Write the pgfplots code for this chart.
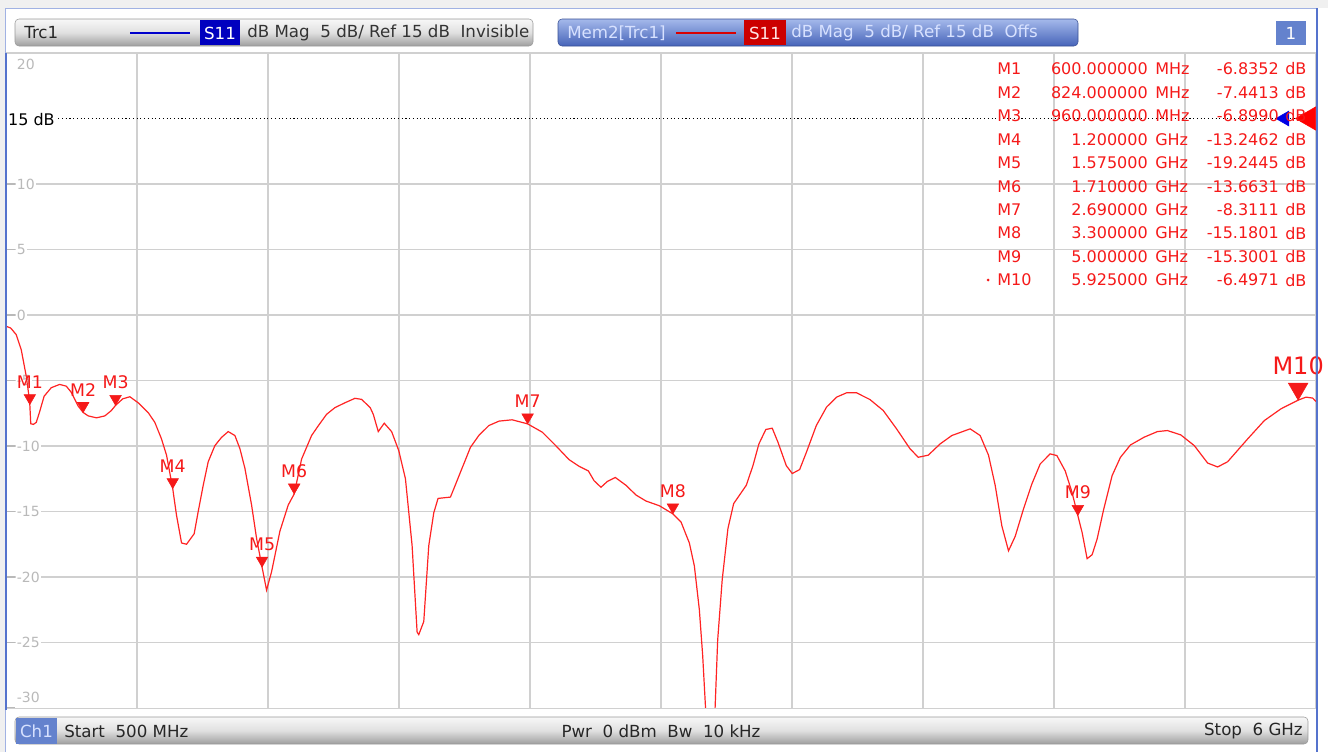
\documentclass[border=0pt]{standalone}
\usepackage{fontspec}
\setmainfont{DejaVu Sans}
\usepackage{pgfplots}
\pgfplotsset{compat=1.18}
\definecolor{trace}{RGB}{255,35,35}
\definecolor{mk}{RGB}{245,25,25}
\definecolor{gridc}{RGB}{208,208,208}
\definecolor{lblgray}{RGB}{185,185,185}
\definecolor{panelblue}{RGB}{85,115,205}
\definecolor{memtop}{RGB}{165,185,235}
\definecolor{membot}{RGB}{70,100,185}
\definecolor{memtext}{RGB}{215,225,255}
\definecolor{chblue}{RGB}{100,130,205}
\newcommand{\fs}[1]{\fontsize{#1}{#1}\selectfont}
\begin{document}
\begin{tikzpicture}
\begin{scope}[x=0.75pt,y=-0.75pt]
\path[use as bounding box] (0,0) rectangle (1328,752);
\fill[white!94!black] (0,0) rectangle (1328,8);
\fill[white!94!black] (0,0) rectangle (5,752);
\draw[panelblue!55, line width=1pt] (5.5,752) -- (5.5,8.5) -- (1317,8.5);
% header: Trc1
\shade[top color=white!97!black, bottom color=white!62!black, middle color=white!88!black, rounded corners=3pt, draw=black!40] (15,19) rectangle (533,46);
\node[anchor=west, inner sep=0pt, text=black!85, font=\fs{12.5}] at (24,33) {Trc1};
\draw[blue!80!black, line width=1.6pt] (130,33) -- (190,33);
\fill[blue!75!black] (200,20) rectangle (240,45);
\node[text=white, font=\fs{12.5}, inner sep=0pt] at (220,33) {S11};
\node[anchor=west, inner sep=0pt, text=black!80, font=\fs{12.5}] at (247,33) {dB Mag\ \ 5 dB/ Ref 15 dB\ \ Invisible};
% header: Mem2
\shade[top color=memtop, bottom color=membot, rounded corners=3pt, draw=membot!80!black] (558,19) rectangle (1078,46);
\node[anchor=west, inner sep=0pt, text=memtext, font=\fs{12.5}] at (567,33) {Mem2[Trc1]};
\draw[red!85!black, line width=1.6pt] (676,33) -- (736,33);
\fill[red!80!black] (744,20) rectangle (786,45);
\node[text=white!90!red, font=\fs{12.5}, inner sep=0pt] at (765,33) {S11};
\node[anchor=west, inner sep=0pt, text=memtext, font=\fs{12.5}] at (791,33) {dB Mag\ \ 5 dB/ Ref 15 dB\ \ Offs};
\fill[chblue] (1276,21) rectangle (1306,45);
\node[text=white, font=\fs{12.5}, inner sep=0pt] at (1291,33) {1};
% bottom bar
\shade[top color=white!97!black, bottom color=white!62!black, middle color=white!88!black, rounded corners=3pt, draw=black!40] (15,717) rectangle (1308,744);
\fill[chblue] (16,718) rectangle (57,743.5);
\node[text=memtext, font=\fs{12.5}, inner sep=0pt] at (36.5,731) {Ch1};
\node[anchor=west, inner sep=0pt, text=black!85, font=\fs{12.5}] at (64,731) {Start\ \ 500 MHz};
\node[inner sep=0pt, text=black!85, font=\fs{12.5}] at (661,731) {Pwr\ \ 0 dBm\ \ Bw\ \ 10 kHz};
\node[anchor=east, inner sep=0pt, text=black!85, font=\fs{12.5}] at (1303,731) {Stop\ \ 6 GHz};
\end{scope}

\begin{axis}[
  set layers,
  at={(4.5pt,-531pt)}, anchor=south west,
  scale only axis, width=982.5pt, height=491.25pt,
  xmin=0.5, xmax=6, ymin=-30, ymax=20,
  xtick={0.5,1.05,1.6,2.15,2.7,3.25,3.8,4.35,4.9,5.45,6},
  xticklabels={},
  ytick={-25,-20,-15,-10,-5,0,5,10},
  yticklabels={-25,-20,-15,-10,-5,0,5,10},
  extra y ticks={-30,20},
  extra y tick labels={\raisebox{4pt}[0pt][0pt]{-30},\raisebox{-12pt}[0pt][0pt]{20}},
  extra y tick style={grid=none, yticklabel style={fill=none}},
  grid=major,
  major grid style={gridc, line width=1pt},
  axis line style={draw=none},
  xtick style={draw=none},
  ytick style={lblgray, line width=1pt},
  ytick pos=left, tick align=inside, major tick length=6.5pt,
  yticklabel style={anchor=west, xshift=7pt, fill=white, inner sep=1pt, text=lblgray, font=\fs{10.5}},
]
\addplot[black, dotted, line width=0.8pt] coordinates {(0.5,15) (6,15)};
\addplot[trace, line width=0.9pt] coordinates {
(0.500,-0.85) (0.520,-1.0) (0.543,-1.5) (0.564,-2.65) (0.585,-4.67) (0.595,-6.0)
(0.600,-6.84) (0.604,-8.3) (0.615,-8.35) (0.627,-8.2) (0.641,-7.4) (0.660,-6.2)
(0.690,-5.55) (0.725,-5.3) (0.753,-5.43) (0.774,-5.9) (0.803,-6.95) (0.824,-7.44)
(0.845,-7.7) (0.880,-7.85) (0.915,-7.7) (0.942,-7.3) (0.960,-6.9) (0.990,-6.4)
(1.020,-6.24) (1.055,-6.7) (1.097,-7.45) (1.125,-8.2) (1.153,-9.47) (1.174,-10.7)
(1.200,-13.25) (1.216,-15.3) (1.237,-17.4) (1.258,-17.5) (1.290,-16.7) (1.307,-15.0)
(1.328,-13.0) (1.349,-11.2) (1.377,-9.97) (1.405,-9.34) (1.433,-8.9) (1.461,-9.2)
(1.482,-10.2) (1.503,-11.7) (1.531,-14.5) (1.552,-17.05) (1.575,-19.24) (1.594,-21.0)
(1.615,-19.6) (1.650,-16.5) (1.685,-14.5) (1.710,-13.66) (1.741,-11.0) (1.783,-9.2)
(1.811,-8.46) (1.846,-7.58) (1.881,-7.07) (1.923,-6.7) (1.965,-6.36) (1.993,-6.44)
(2.029,-7.07) (2.042,-7.58) (2.063,-8.9) (2.088,-8.26) (2.119,-8.9) (2.149,-10.35)
(2.177,-12.5) (2.205,-17.6) (2.226,-24.2) (2.233,-24.4) (2.254,-23.4) (2.275,-17.6)
(2.296,-15.1) (2.314,-14.0) (2.366,-13.9) (2.408,-12.0) (2.450,-10.1) (2.485,-9.2)
(2.527,-8.44) (2.570,-8.1) (2.625,-8.0) (2.690,-8.31) (2.752,-8.95) (2.808,-9.97)
(2.864,-11.04) (2.906,-11.55) (2.945,-11.9) (2.969,-12.65) (2.998,-13.15) (3.025,-12.7)
(3.058,-12.4) (3.103,-13.0) (3.145,-13.74) (3.187,-14.2) (3.243,-14.56) (3.300,-15.18)
(3.334,-15.8) (3.369,-17.4) (3.390,-19.15) (3.411,-22.5) (3.425,-26.0) (3.440,-31)
(3.475,-31) (3.488,-24.8) (3.507,-20.2) (3.531,-16.3) (3.555,-14.4) (3.608,-13.0)
(3.636,-11.5) (3.661,-9.84) (3.690,-8.74) (3.717,-8.64) (3.741,-9.71) (3.776,-11.5)
(3.801,-12.1) (3.832,-11.8) (3.860,-10.5) (3.902,-8.44) (3.945,-7.03) (3.987,-6.27)
(4.029,-5.94) (4.071,-5.94) (4.127,-6.45) (4.183,-7.29) (4.239,-8.69) (4.295,-10.2)
(4.330,-10.86) (4.372,-10.7) (4.422,-9.84) (4.471,-9.2) (4.548,-8.69) (4.590,-9.2)
(4.625,-10.7) (4.653,-13.0) (4.681,-16.1) (4.709,-18.0) (4.737,-16.9) (4.772,-14.8)
(4.807,-12.9) (4.842,-11.37) (4.884,-10.6) (4.912,-10.73) (4.947,-11.9) (4.975,-13.5)
(5.000,-15.3) (5.018,-16.6) (5.039,-18.6) (5.060,-18.3) (5.081,-17.1) (5.109,-14.8)
(5.144,-12.26) (5.179,-10.86) (5.221,-9.92) (5.278,-9.33) (5.334,-8.9) (5.376,-8.82)
(5.432,-9.15) (5.489,-9.97) (5.545,-11.3) (5.587,-11.6) (5.629,-11.2) (5.713,-9.46)
(5.783,-8.06) (5.853,-7.16) (5.925,-6.50) (5.958,-6.27) (5.986,-6.34) (6.000,-6.6)
};
\addplot[only marks, mark=triangle*, mark size=5pt,
  mark options={yshift=5pt, rotate=180, fill=mk, draw=mk},
  point meta=explicit symbolic, nodes near coords,
  nodes near coords style={anchor=south, yshift=7pt, text=mk, font=\fs{13}, inner sep=0pt}]
  coordinates {(0.600,-6.8352)[M1] (0.824,-7.4413)[M2] (0.960,-6.8990)[M3]
  (1.200,-13.2462)[M4] (1.575,-19.2445)[M5] (1.710,-13.6631)[M6]
  (2.690,-8.3111)[M7] (3.300,-15.1801)[M8] (5.000,-15.3001)[M9]};
\addplot[only marks, mark=triangle*, mark size=8.5pt,
  mark options={yshift=8.5pt, rotate=180, fill=mk, draw=mk},
  point meta=explicit symbolic, nodes near coords,
  nodes near coords style={anchor=south, yshift=10pt, text=mk, font=\fs{18}, inner sep=0pt}]
  coordinates {(5.925,-6.4971)[M10]};
\addplot[only marks, mark=triangle*, mark size=10pt, mark options={rotate=90, fill=red, draw=red}] coordinates {(5.970,15)};
\addplot[only marks, mark=triangle*, mark size=6.5pt, mark options={rotate=90, fill=blue!90!black, draw=blue!90!black}] coordinates {(5.868,15)};
\end{axis}

\begin{scope}[x=0.75pt,y=-0.75pt]
\draw[gridc, line width=1pt] (6,53) -- (1316,53);
\draw[gridc, line width=1pt] (6,708.5) -- (1316,708.5);
\draw[panelblue, line width=1.6pt] (6,53) -- (6,710);
\draw[panelblue, line width=1.6pt] (1316.8,8) -- (1316.8,752);
\node[anchor=west, fill=white, inner sep=1pt, text=black, font=\fs{12}] at (6.5,120) {15 dB};
% marker table
\foreach \n/\fr/\u/\v [count=\i from 0] in {
 M1/600.000000/MHz/-6.8352, M2/824.000000/MHz/-7.4413, M3/960.000000/MHz/-6.8990,
 M4/1.200000/GHz/-13.2462, M5/1.575000/GHz/-19.2445, M6/1.710000/GHz/-13.6631,
 M7/2.690000/GHz/-8.3111, M8/3.300000/GHz/-15.1801, M9/5.000000/GHz/-15.3001,
 M10/5.925000/GHz/-6.4971} {
  \pgfmathsetmacro{\yy}{69+23.45*\i}
  \node[anchor=west, inner sep=0pt, text=mk, font=\fs{12}] at (997,\yy) {\n};
  \node[anchor=east, inner sep=0pt, text=mk, font=\fs{12}] at (1148,\yy) {\fr};
  \node[anchor=west, inner sep=0pt, text=mk, font=\fs{12}] at (1155,\yy) {\u};
  \node[anchor=east, inner sep=0pt, text=mk, font=\fs{12}] at (1279,\yy) {\v};
  \node[anchor=west, inner sep=0pt, text=mk, font=\fs{12}] at (1285,\yy) {dB};
}
\fill[mk] (988,280) circle (1.5);
\end{scope}
\end{tikzpicture}
\end{document}
